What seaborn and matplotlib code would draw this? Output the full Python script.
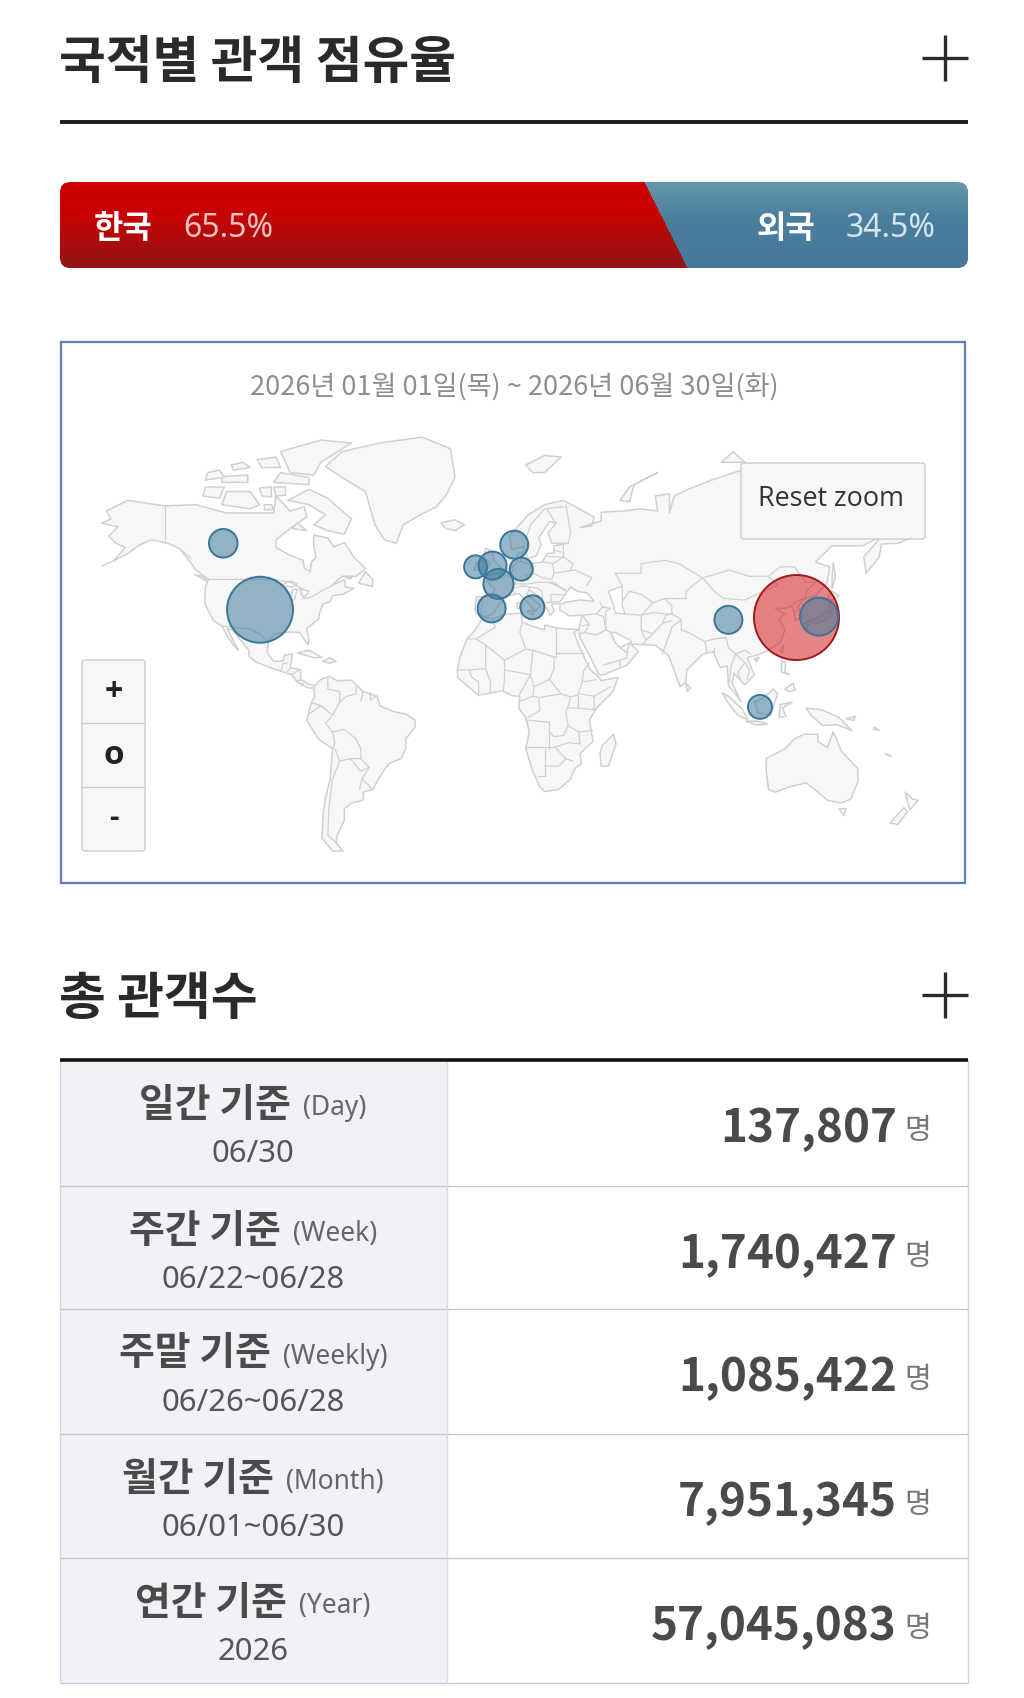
import numpy as np
import pandas as pd
import matplotlib
matplotlib.use("Agg")
import matplotlib.pyplot as plt
import seaborn as sns
from matplotlib.patches import FancyBboxPatch, Polygon, Rectangle
from matplotlib.colors import to_rgb, to_rgba

# --- share bar ---
korea_label = "한국"
foreign_label = "외국"
korea_share = 65.5
foreign_share = 34.5

# --- bubbles (lon, lat, relative size) ---
foreign_names = ["USA", "Canada", "Norway", "Ireland", "UK", "Germany", "France", "Spain", "Italy", "China", "Indonesia", "Japan"]
foreign_lon = [-100.8, -116.4, 7.1, -9.3, -2.1, 10.1, 0.4, -2.5, 14.8, 98.0, 111.4, 136.5]
foreign_lat = [38.5, 60.0, 59.6, 53.0, 53.4, 52.3, 47.5, 39.0, 39.4, 34.8, -0.5, 36.0]
foreign_size = [39.5, 7.4, 7.1, 4.8, 7.1, 4.8, 8.2, 7.1, 5.2, 7.1, 5.2, 13.1]
korea_lon = [126.7]
korea_lat = [36.0]
korea_size = [65.5]

# --- table ---
row_titles = ["일간 기준", "주간 기준", "주말 기준", "월간 기준", "연간 기준"]
row_units = ["(Day)", "(Week)", "(Weekly)", "(Month)", "(Year)"]
row_dates = ["06/30", "06/22~06/28", "06/26~06/28", "06/01~06/30", "2026"]
row_values = [137807, 1740427, 1085422, 7951345, 57045083]

# --- rough coastlines, lon/lat ---
north_america = [(-168,65.5),(-164,66.5),(-166,68.5),(-157,71),(-141,69.7),(-128,70),(-115,68),(-108,68),(-95,68),(-94,72),(-88,68.5),(-82,69.5),(-81,67),(-87,64.5),(-94,61),(-94,58.8),(-88,56.5),(-82.5,55),(-82,52.5),(-79.5,51.5),(-79,54.5),(-77,56),(-78,59),(-78,62.3),(-72,61.5),(-69.5,59),(-65,60.2),(-61,56),(-56,52.5),(-60,50),(-66,50),(-70,47.2),(-65,48.8),(-64.5,46.5),(-61,46),(-65.5,44),(-70,43.5),(-71,41.5),(-74,40.5),(-75.5,37.5),(-76,35),(-81,31.5),(-80,27),(-80.5,25.2),(-82.5,28),(-84,30),(-89,30.2),(-94,29.5),(-97.3,27),(-97.7,22),(-95,18.5),(-91,18.7),(-90.5,21),(-87,21.5),(-88,16),(-83.5,15),(-83.5,11),(-80,9),(-77.5,8.5),(-78,7.5),(-80.5,7.5),(-85,10),(-87.5,13),(-92,14.5),(-96,15.8),(-102,18),(-105.5,20.5),(-105.5,23),(-109,27),(-112.5,31),(-114.7,31.5),(-112,26.5),(-110,23),(-112,25),(-115,29),(-117,32.5),(-120.5,34.5),(-122.5,37.7),(-124.3,41),(-124,46.5),(-122.7,49),(-128,52),(-131,55),(-135,58.5),(-140,60),(-147,61),(-152,59.5),(-157,57),(-163,54.8),(-158,58.8),(-162,60),(-165,62),(-161,64.5)]
south_america = [(-77.5,8.5),(-75,11),(-71.5,12.4),(-68,10.5),(-62,10.7),(-57,6),(-51,4),(-50,0),(-44,-2.5),(-39,-3.5),(-35,-6),(-35,-9),(-39,-14),(-39,-18),(-41,-22),(-46,-24),(-48.5,-27),(-53,-34),(-57,-35),(-57,-38),(-62,-39),(-65,-41),(-65,-45),(-68,-50),(-68.5,-52.5),(-65.5,-55),(-70,-55),(-74.5,-51),(-74,-43),(-73,-37),(-71,-30),(-70,-18),(-76,-14),(-81,-6),(-80,-2.5),(-79,1.5),(-77.5,4),(-78,7.5)]
africa = [(-6,35.8),(-2,35.1),(3,36.9),(10,37.3),(10.5,34),(15,32.3),(20,31),(20,32.8),(25,31.7),(32,31.2),(34.3,31.2),(32.5,29.8),(35,24),(37.3,19),(39.5,15),(43,12),(44,10.5),(51.2,11.9),(49,6),(42,-1),(39,-6),(40.5,-15),(35,-20),(35.5,-24),(32.8,-26),(31,-30),(26,-34),(20,-34.8),(18,-33),(15,-27),(12,-18),(13.5,-11),(12,-5),(9,-1),(9.5,3.8),(6,4.3),(2,6.3),(-4,5.2),(-8,4.4),(-13,8.5),(-17,12),(-17,15),(-16,20),(-13,27.5),(-9.5,31)]
eurasia = [(-9,37),(-9.5,38.8),(-9,43),(-2,43.4),(-1.2,46),(-4.6,48.4),(-1.5,48.7),(1.5,50.8),(4,52),(8,54),(8.5,57),(10.7,57.5),(10,54.5),(14,54),(19,54.5),(21,57),(24,57.2),(24,59.3),(30,60),(23,60),(21.5,63),(25,65.5),(22,65.8),(17.5,61.5),(18.5,59.5),(16.5,56.5),(13,55.5),(11,59),(6,58.2),(5,62),(13,67.5),(20,70),(28,71),(41,67),(40,64.7),(35,64.3),(44,66),(44,68.2),(54,68.5),(60,69),(68,68.5),(67,72),(73,72.5),(73,68),(75,72),(81,73.5),(91,75.5),(105,77.7),(113,74),(128,73),(140,72.7),(160,70),(170,70),(180,69),(180,65),(177.5,64.7),(179,62.5),(170,60),(163,59.8),(162,56),(156.5,51),(155.5,56),(163,62),(155,59.3),(142,59.3),(135,54.5),(141,53),(140,48),(135,43.5),(130,42.5),(127.5,39.5),(129.5,36),(126.5,34.5),(126,37),(125,39.7),(121.5,39),(118,39),(122,37),(119.5,35),(122,31),(120,26),(114,22.5),(110,21),(106,20),(109,13),(105,8.8),(100.5,13.5),(99.5,9.5),(103.5,1.5),(100.5,5.5),(98,8.5),(97.5,16.5),(94.5,16),(91.5,22.5),(87,21.3),(80.3,15),(80,10),(77.5,8),(73,20),(72.5,21),(67,25),(57,25.5),(56.5,27),(50,30),(48,30),(50,26),(52,24),(56,26),(59.8,22.5),(55,17),(45,13),(43,13),(39,21),(35,28),(34.5,31.3),(36,36.5),(30.5,36.3),(26.5,38.5),(26.5,40.5),(29,41.2),(35,42),(41,41.5),(38,44.5),(34,45),(31,46.5),(28,43),(26,40.8),(23,40.5),(24,38),(22.5,36.5),(19.5,41),(19,42.5),(13.5,45.5),(12.5,44),(16,41.5),(18.5,40),(16,38),(12.5,41.5),(9,44.3),(3.5,43.3),(0,39.5),(-2,36.8),(-5.5,36)]
islands = [
    [(-73,78.2),(-66,81),(-50,82.5),(-32,83.5),(-20,81.5),(-18,76),(-22,72),(-26,69.5),(-33,67.5),(-40,65),(-43,60),(-48,61),(-52,65),(-54,69),(-56,73),(-66,76)],
    [(-80,73.5),(-72,71.5),(-67,69),(-62,66.5),(-65,62.5),(-72,63.5),(-78,65),(-73,67.5),(-80,70),(-89,71)],
    [(-117,70),(-105,69),(-101,70),(-105,73),(-115,73)],
    [(-125,72),(-118,71.5),(-116,74),(-124,74)],
    [(-88,77),(-78,76.5),(-75,79),(-62,82.5),(-75,83),(-92,81)],
    [(-95,75),(-80,74.5),(-80,76),(-92,77)],
    [(-117,75),(-106,75),(-106,76.5),(-117,76.2)],
    [(-100,78),(-92,78),(-94,80),(-102,79.5)],
    [(-100,72),(-96,71.8),(-96,74),(-101,73.8)],
    [(-94,72),(-90,72.2),(-90,74),(-95,74)],
    [(-99,68.8),(-95,68.8),(-96,70),(-99,70)],
    [(-112,77.5),(-105,78),(-108,79),(-113,78.5)],
    [(-124,75.5),(-116,76),(-118,77.5),(-123,77)],
    [(-87,64),(-81,63.5),(-85,65.5)],
    [(-59,47.7),(-53,46.7),(-53,49),(-56,51.5)],
    [(-64.5,49.8),(-62,49.5),(-63,49.2)],
    [(-85,22),(-80,23),(-74.5,20.2),(-78,20)],
    [(-74.3,18.5),(-71,19.9),(-68.5,18.5),(-71.5,17.8)],
    [(-128.5,50.5),(-125,50),(-123.5,48.5)],
    [(-5.5,50),(1.5,51.2),(1.5,52.8),(-1.5,55),(-2,57.5),(-5,58.6),(-6,56),(-3,54),(-5,52)],
    [(-10,52),(-6,52.2),(-6,55),(-9,54.5)],
    [(-24,65.5),(-18,66.3),(-14,65),(-18,63.5),(-22,64)],
    [(12,78.5),(20,80.3),(27,80),(20,77),(15,77)],
    [(52,71),(56,74),(68,77),(58,74.5),(56,70.7)],
    [(95,79),(105,79),(100,81)],
    [(137,75),(146,75.5),(140,76)],
    [(142,46),(143.5,50),(142.5,54.3),(142,50)],
    [(131,34),(136,35.5),(140,38),(141.3,41),(142,39),(140.8,35.5),(136,33.7)],
    [(140,42),(141.5,45.3),(145,43.5),(143,42)],
    [(130,33.5),(132,33),(131,31),(130,31.3)],
    [(120,23),(121.5,25),(121,22)],
    [(109,19.5),(111,20),(110,18.3)],
    [(80,9.5),(82,7.5),(80.5,6)],
    [(120.5,18.5),(122.3,18),(122,14),(124,13),(120.5,14)],
    [(122,7),(125.5,9.5),(126.3,6.5),(124,6)],
    [(95.3,5.5),(98,4),(104,-1.5),(106,-5.8),(102,-4),(98,1)],
    [(105.3,-6.5),(110,-6.5),(114.5,-7.7),(110,-8.2)],
    [(109,1.5),(113,3.3),(117,7),(119,5),(117.5,1),(116,-4),(110.5,-3)],
    [(119.5,-5),(120,0.5),(125,1.5),(121,-1),(122.5,-4.5)],
    [(131,-1),(138,-1.8),(145,-5),(150.5,-10.5),(144,-8),(138,-8.3),(133,-4)],
    [(114,-22),(122,-18),(126,-14),(130,-12),(136,-12),(136,-15),(140,-17.5),(142.5,-11),(146,-19),(153,-26),(153,-31),(150,-37.5),(146,-39),(140,-38),(136,-35),(131,-31.5),(124,-33),(118,-35),(115,-34),(114,-26)],
    [(145,-41),(148,-41),(147,-43.5)],
    [(173,-35),(176,-37.5),(178.5,-38),(175,-41.5)],
    [(172.5,-40.7),(174,-42),(170,-46.5),(166.5,-46)],
    [(49.3,-12),(50.3,-16),(47,-25),(44,-25),(43.5,-20),(44.5,-16.5)],
    [(8.3,41),(9.7,41),(9.6,39),(8.5,39)],
    [(12.5,38),(15.5,38.2),(15,36.7)],
    [(148,-5.5),(152,-4.5),(151,-6.2)],
    [(160,-9),(162,-10.5),(159.5,-9.8)],
    [(166,-20.5),(167,-21),(164.5,-20)],
]
lakes = [
    [(47,45),(53,46.8),(53,40),(54,37),(50,37.3),(49,41)],
    [(-92,46.8),(-88,48.5),(-85,47.5),(-87,46.5)],
    [(-87.5,42),(-86.3,42),(-85,45.8),(-87,45.5)],
    [(-84,46),(-80,45),(-82,43),(-83.5,44)],
]
aleutians = [(-163,54.8),(-168,53.3)]

# --- rough country borders, lon/lat ---
borders = [
    [(-141,69.7),(-141,60)], [(-135,58.5),(-130,55.5)],
    [(-122.7,49),(-95,49),(-88,48),(-83,46),(-82.5,42.5),(-79,43),(-75,45),(-70,47)],
    [(-117,32.5),(-108,31.5),(-106,31.7),(-101,29.5),(-97.3,26)],
    [(-92,14.5),(-91,17.5),(-89,18)], [(-89.5,14),(-88,16)], [(-87.5,13),(-84,15)], [(-85.5,11),(-83.5,11)], [(-83,8.5),(-82.5,9.5)],
    [(-72,12),(-72,7),(-67,6),(-67,1.5),(-70,-4)], [(-78.8,1.3),(-75,0),(-70,-4),(-73,-7.5),(-70,-11),(-69,-16),(-70,-18)],
    [(-60,8.5),(-60,5),(-64,4),(-67,1.5)], [(-57,6),(-58,2)], [(-54,5.5),(-54,2.5),(-51.5,4)], [(-80,-3.5),(-75,0)],
    [(-70,-11),(-65,-10),(-60,-14),(-58,-18),(-58,-22),(-62.5,-22),(-67,-23),(-69,-18)],
    [(-58,-22),(-54.5,-25.5),(-58,-27),(-62.5,-22)], [(-54.5,-25.5),(-57.5,-30),(-53.5,-33.5)], [(-57.5,-30),(-58.5,-34)],
    [(-67,-23),(-70,-30),(-71.5,-40),(-72,-50),(-68.5,-52.5)],
    [(-2,35.1),(-1,32),(-9,27.5),(-13,27.5)], [(-9,27.5),(-5,25),(3,19),(12,23.5),(9.5,30),(10.5,34)], [(12,23.5),(15,23),(25,20),(25,31.7)], [(25,22),(36.8,22)], [(24,20),(24,15.5),(22,11),(27,5),(31,3.7),(34,4.5),(36,10),(36.5,14.5),(39,18)],
    [(-17,15),(-12,15),(-5,15.5),(-5,25)], [(-12,15),(-11,12),(-8,10),(-8,4.4)], [(-5,15.5),(-3,10),(-3,5)], [(3,19),(3,12),(2.5,6.3)], [(3,15),(14,13),(15,23)], [(14,13),(9,4)], [(14,13),(15.5,8),(22,11)], [(15.5,8),(15,4),(9.8,2)], [(15,4),(17.5,3.5),(18,-2),(13,-5)], [(18,3.5),(27,5)],
    [(12,-6),(22,-7),(22,-11),(24,-13),(28,-12.5),(30,-8.5),(29,-3),(30,0),(31,3.7)], [(30,-1),(34,-1),(41,-1.7)], [(34,-1),(34,4.5)], [(41,4),(35,5)], [(36,10),(42,11)], [(41,-1.7),(41,4),(48,8)],
    [(12,-17.5),(24,-17.5),(30,-15.5),(35,-16)], [(22,-11),(22,-18)], [(20,-18),(20,-29),(17,-29)], [(25,-18),(29,-22),(32,-23)], [(20,-25),(26,-25),(29,-22)], [(30,-8.5),(34.5,-11),(40.5,-10.5)], [(34.5,-11),(35,-16)],
    [(-9,42),(-6.5,42),(-7,37.2)], [(-2,43.4),(3.2,42.5)], [(2.5,51),(6,49.5),(8,49),(7.5,47.5),(6.5,46),(7.5,43.8)], [(4,51.5),(6,51),(7,53.5)], [(8.5,54.8),(9.8,54.8)], [(7.5,47.5),(13,47.5),(17,48)], [(14,54),(15,51),(12,50.3),(13,48.5)], [(15,51),(19,49.5),(23,49),(24,51),(23.5,54),(19,54.5)], [(6.5,46),(10.5,46.8),(13.7,46.5),(13.5,45.5)], [(13.7,46.5),(17,46),(19,45),(19,42.5)], [(17,48),(22,48),(29,45.5)], [(22,48),(24,48),(28,45.5),(29,45)], [(22.5,44),(28,43.8)], [(22.5,44),(23,41)], [(20.5,41),(26,41.5)], [(24,51),(33,52),(40,49.5),(38,47)], [(23.5,54),(28,56),(28,59.3)], [(31,52.2),(32,54),(28,56)], [(21,56.2),(27,56)], [(24,58),(27,57.5)], [(30,60),(31,63),(29,70)], [(12,61),(14,65),(20,69),(28,69.5)], [(24,66),(21,69)],
    [(36,36.5),(42,37),(44.7,39.5),(43.5,41)], [(42,37),(45,36),(46,31),(48,30)], [(36,36.5),(39,33),(35.8,32.5)], [(39,33),(37,30),(35,29.5)], [(46,31),(42,29),(37,30)], [(52,24),(55,22),(55,20),(52,19),(52,16.5)], [(45,17),(52,19)], [(56,26),(55,22)],
    [(46,31),(46,38),(48,39)], [(44.5,39.5),(48,39)], [(54,37),(61,36.5),(61,31),(63,27),(61.5,25)], [(61,36.5),(66,37.5),(71,37),(74,37)], [(61,31),(66,29.5),(70,33.5),(71.5,36.5),(74,37)], [(66,29.5),(63,27)], [(70,33.5),(74,34.5)], [(70,21.5),(74,32),(78,35),(78,31),(81,30),(88,26.5),(92,27.5),(97,28)], [(88,26.5),(89,22)], [(92,24),(92,22)], [(92,27.5),(97,28),(98,24),(101,21.5),(99,16),(98.5,10)], [(101,21.5),(105,23),(107.5,21.5)], [(101,21.5),(105,18),(107,15),(106,11)], [(105,18),(102,14),(103,11)],
    [(53,46.8),(50,51),(61,51),(61,54),(71,55),(77,54),(87,49.5)], [(53,41.5),(56,45),(61,44),(66,41),(71,42.5),(80,42.5),(80,45),(87,49.5)], [(66,41),(61,36.5)], [(71,42.5),(74,40),(74,37)], [(87,49.5),(92,50.5),(98,52),(107,50),(115,50),(120,53),(126,53),(131,48),(135,48),(131,45),(130.7,42.5)], [(87,49.5),(92,45),(96,42.5),(105,42),(111.5,44.5),(119,47),(115,50)], [(124.5,40),(128,42),(130.7,42.5)], [(126,38),(128.5,38.5)], [(74,37),(78,35)],
]

sns.set_theme(style="white")
plt.rcParams["font.family"] = ["Noto Sans CJK KR", "DejaVu Sans"]

INK = "#2a2a2a"
LAND = "#f7f7f7"
COAST = "#d0d0d0"
PANEL = "#f7f7f7"
PANEL_EDGE = "#cccccc"

W, H = 1024, 1698
LEFT, RIGHT = 60, 968
fig = plt.figure(figsize=(W / 100, H / 100), dpi=100, facecolor="white")


def px_axes(x0, y0, x1, y1, **kw):
    # axes placed by reference pixels
    return fig.add_axes([x0 / W, 1 - y1 / H, (x1 - x0) / W, (y1 - y0) / H], **kw)


def miller(lat):
    lat = np.radians(np.asarray(lat, dtype=float))
    return 1.25 * np.log(np.tan(np.pi / 4 + 0.4 * lat))


def project(points):
    pts = np.asarray(points, dtype=float)
    return np.column_stack([pts[:, 0], miller(pts[:, 1])])


# page layer, pixel coordinates, sits on top
page = px_axes(0, 0, W, H, zorder=5)
page.set_xlim(0, W)
page.set_ylim(H, 0)
page.axis("off")
page.patch.set_alpha(0)


def plus_icon(cx, cy):
    page.plot([cx - 23, cx + 23], [cy, cy], color=INK, lw=2.4, solid_capstyle="butt")
    page.plot([cx, cx], [cy - 23, cy + 23], color=INK, lw=2.4, solid_capstyle="butt")


# section headings
page.text(LEFT - 1, 63, "국적별 관객 점유율", fontsize=36.6, fontweight="bold", color=INK, va="center", ha="left")
plus_icon(945, 58)
page.plot([LEFT, RIGHT], [122, 122], color="#1c1c1c", lw=2.8, solid_capstyle="butt")
page.text(LEFT - 1, 999, "총 관객수", fontsize=36.6, fontweight="bold", color=INK, va="center", ha="left")
plus_icon(945, 995)

# share bar
bar_top, bar_bot = 182, 268
ax_bar = px_axes(LEFT, bar_top, RIGHT, bar_bot)
rounded = FancyBboxPatch((LEFT, bar_top), RIGHT - LEFT, bar_bot - bar_top,
                         boxstyle="round,pad=0,rounding_size=11", transform=page.transData)
sns.barplot(x=[korea_share + foreign_share], y=["share"], color="#4a7d9c", width=1, saturation=1, ax=ax_bar)
sns.barplot(x=[korea_share], y=["share"], color="#b80a0e", width=1, saturation=1, ax=ax_bar)
for bar in ax_bar.patches:
    bar.set_clip_path(rounded)

# red and blue gradients with the slanted split around the share value
rows = np.linspace(0, 1, bar_bot - bar_top)
cols = np.linspace(0, 100, RIGHT - LEFT)
red_stops = np.array([to_rgb(c) for c in ["#cc0000", "#c80304", "#8f1518"]])
blue_stops = np.array([to_rgb(c) for c in ["#6398ab", "#4b7f9e", "#47789a"]])
stop_pos = [0, 0.4, 1]
grad = np.zeros((len(rows), len(cols), 3))
for i, t in enumerate(rows):
    split = korea_share - 1.1 + 4.7 * t
    red = [np.interp(t, stop_pos, red_stops[:, k]) for k in range(3)]
    blue = [np.interp(t, stop_pos, blue_stops[:, k]) for k in range(3)]
    grad[i] = np.where((cols < split)[:, None], red, blue)
img = ax_bar.imshow(grad, extent=(0, 100, 0.5, -0.5), aspect="auto", interpolation="antialiased", zorder=3)
img.set_clip_path(rounded)
ax_bar.set_xlim(0, 100)
ax_bar.set_ylim(0.5, -0.5)
ax_bar.axis("off")

bar_mid = 229
page.text(94, bar_mid, korea_label, fontsize=23, fontweight="bold", color="white", va="center")
page.text(183, bar_mid - 1, f"{korea_share}%", fontsize=23, color="#f3c4c4", va="center", fontfamily="Noto Sans")
page.text(757, bar_mid, foreign_label, fontsize=23, fontweight="bold", color="white", va="center")
page.text(846, bar_mid - 1, f"{foreign_share}%", fontsize=23, color="#d5e6ef", va="center", fontfamily="Noto Sans")

# map panel
MAP_X0, MAP_X1, MAP_Y0, MAP_Y1 = 61, 965, 342, 883
PX_PER_DEG, LON0_PX = 2.356, 497.5
PX_PER_RAD, EQUATOR_PX = 135.7, 705.7
ax_map = px_axes(MAP_X0, MAP_Y0, MAP_X1, MAP_Y1)
ax_map.set_xlim((MAP_X0 - LON0_PX) / PX_PER_DEG, (MAP_X1 - LON0_PX) / PX_PER_DEG)
ax_map.set_ylim((EQUATOR_PX - MAP_Y1) / PX_PER_RAD, (EQUATOR_PX - MAP_Y0) / PX_PER_RAD)
ax_map.set_xticks([])
ax_map.set_yticks([])
for spine in ax_map.spines.values():
    spine.set_color("#5f7fb8")
    spine.set_linewidth(1.6)

for shape in [north_america, south_america, africa, eurasia] + islands:
    ax_map.add_patch(Polygon(project(shape), closed=True, facecolor=LAND, edgecolor=COAST, lw=1.1, joinstyle="round"))
for shape in lakes:
    ax_map.add_patch(Polygon(project(shape), closed=True, facecolor="white", edgecolor=COAST, lw=1.0))
for line in borders + [aleutians]:
    xy = project(line)
    ax_map.plot(xy[:, 0], xy[:, 1], color=COAST, lw=0.9)

# bubbles, area follows the size value
korea_df = pd.DataFrame({"lon": korea_lon, "y": miller(korea_lat), "size": korea_size})
foreign_df = pd.DataFrame({"lon": foreign_lon, "y": miller(foreign_lat), "size": foreign_size})
AREA_MAX = (2 * 42.5 * 0.72) ** 2
size_norm = (0, max(korea_size))
for df, fill, edge in [(korea_df, to_rgba("#d01518", 0.52), "#a3181c"), (foreign_df, to_rgba("#3f7c9e", 0.55), "#3a7698")]:
    sns.scatterplot(data=df, x="lon", y="y", size="size", sizes=(0, AREA_MAX), size_norm=size_norm,
                    legend=False, linewidth=1.4, ax=ax_map, zorder=4)
    pts = ax_map.collections[-1]
    pts.set_facecolor(fill)
    pts.set_edgecolor(edge)
ax_map.set_xlabel("")
ax_map.set_ylabel("")

page.text(514, 387, "2026년 01월 01일(목) ~ 2026년 06월 30일(화)", fontsize=19.5, color="#8e8e8e", ha="center", va="center")

# reset zoom and zoom buttons
page.add_patch(FancyBboxPatch((741, 463), 184, 76, boxstyle="round,pad=0,rounding_size=3", facecolor=PANEL, edgecolor=PANEL_EDGE, lw=1))
page.text(831, 499, "Reset zoom", fontsize=19.4, color="#333333", ha="center", va="center", fontfamily="Open Sans")
page.add_patch(FancyBboxPatch((82, 660), 63, 191, boxstyle="round,pad=0,rounding_size=3", facecolor=PANEL, edgecolor=PANEL_EDGE, lw=1))
page.plot([82, 145], [723, 723], color=PANEL_EDGE, lw=1)
page.plot([82, 145], [787, 787], color=PANEL_EDGE, lw=1)
page.text(114, 692, "+", fontsize=23, fontweight="bold", color="#222222", ha="center", va="center", fontfamily="Open Sans")
page.text(114, 755, "o", fontsize=24, fontweight="bold", color="#222222", ha="center", va="center", fontfamily="Open Sans")
page.text(114, 818, "-", fontsize=21, fontweight="bold", color="#222222", ha="center", va="center", fontfamily="Open Sans")

# table
row_edges = [1060, 1186, 1309, 1434, 1558, 1683]
COL_X = 447
LINE = "#c9c9cc"
TEXT = "#4a4a4a"
renderer = fig.canvas.get_renderer()
for i, (top, bot) in enumerate(zip(row_edges[:-1], row_edges[1:])):
    page.add_patch(Rectangle((LEFT, top), COL_X - LEFT, bot - top, facecolor="#f1f2f7", edgecolor="none"))
    page.plot([LEFT, RIGHT], [bot, bot], color=LINE, lw=1.0, zorder=3)
    # title and unit centred together over the first column
    title = page.text(0, top + 45, row_titles[i], fontsize=28, fontweight="bold", color=TEXT, va="center", ha="left")
    unit = page.text(0, top + 48, row_units[i], fontsize=19, color="#666666", va="center", ha="left", fontfamily="Noto Sans")
    title_w = title.get_window_extent(renderer).width
    unit_w = unit.get_window_extent(renderer).width
    start = 253 - (title_w + 12 + unit_w) / 2
    title.set_x(start)
    unit.set_x(start + title_w + 12)
    page.text(253, top + 94, row_dates[i], fontsize=22.4, color="#555555", ha="center", va="center", fontfamily="Noto Sans")
    page.text(897, top + 69, f"{row_values[i]:,}", fontsize=33, fontweight="bold", color=TEXT, ha="right", va="center")
    page.text(918, top + 71, "명", fontsize=21, color="#777777", ha="center", va="center")
page.plot([LEFT, RIGHT], [row_edges[0], row_edges[0]], color="#141414", lw=2.6, solid_capstyle="butt", zorder=4)
page.plot([LEFT, LEFT], row_edges[::5], color="#d4d4d8", lw=1, zorder=3)
page.plot([RIGHT, RIGHT], row_edges[::5], color="#d4d4d8", lw=1, zorder=3)
page.plot([COL_X, COL_X], row_edges[::5], color="#dcdde2", lw=1, zorder=3)

fig.savefig("out.png", dpi=100)
